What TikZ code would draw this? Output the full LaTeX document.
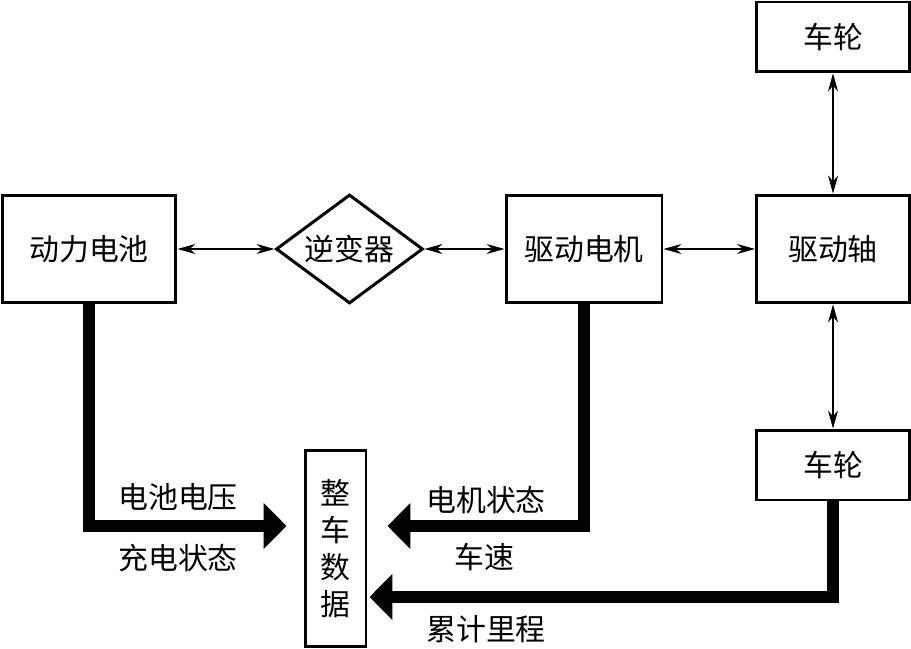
\documentclass[tikz,border=0pt]{standalone}
\usepackage{fontspec}
\setmainfont{Noto Sans CJK SC}
\usetikzlibrary{shapes.geometric,arrows.meta}

\begin{document}
\begin{tikzpicture}
    [
    x=0.02cm, y=-0.02cm,
    every node/.style={font=\fontsize{17}{21}\selectfont, align=center},
    block/.style={draw, line width=1.7pt, minimum width=3.06cm, minimum height=2.16cm, inner sep=0pt},
    wheel/.style={block, minimum height=1.4cm},
    link/.style={draw, line width=0.6pt, {Stealth[length=0.36cm,width=0.2cm]}-{Stealth[length=0.36cm,width=0.2cm]}},
    bus/.style={draw, line width=0.24cm, -{Triangle[length=0.46cm,width=0.9cm]}}
    ]
    \useasboundingbox (0,0) rectangle (911,648);

    \node[block, minimum width=3.48cm] (bat) at (89,249) {动力电池};
    \node[draw, diamond, line width=1.7pt, aspect=1.35, minimum width=2.94cm, minimum height=2.18cm, inner sep=1pt] (inv) at (349.5,249) {逆变器};
    \node[block, minimum width=3.12cm] (motor) at (584,249) {驱动电机};
    \node[block] (shaft) at (833,249) {驱动轴};
    \node[wheel] (wheeltop) at (833,37) {车轮};
    \node[wheel] (wheelbot) at (833,465) {车轮};
    \node[draw, line width=1.7pt, minimum width=1.22cm, minimum height=3.94cm, inner sep=0pt] (data) at (335.5,548.5) {整\\车\\数\\据};

    \draw[link] (bat.east) -- (inv.west);
    \draw[link] (inv.east) -- (motor.west);
    \draw[link] (motor.east) -- (shaft.west);
    \draw[link] (wheeltop.south) -- (shaft.north);
    \draw[link] (shaft.south) -- (wheelbot.north);

    \draw[bus] (bat.south) |- ([xshift=-0.34cm, yshift=0.45cm]data.west);
    \draw[bus] (motor.south) |- ([xshift=0.4cm, yshift=0.45cm]data.east);
    \draw[bus] (wheelbot.south) |- ([xshift=0.04cm, yshift=-0.97cm]data.east);

    \node (volt) at (178,497) {电池电压};
    \node (charge) at (178,558) {充电状态};
    \node (mstate) at (486,500) {电机状态};
    \node (speed) at (484,557) {车速};
    \node (mileage) at (486,629) {累计里程};
\end{tikzpicture}
\end{document}
